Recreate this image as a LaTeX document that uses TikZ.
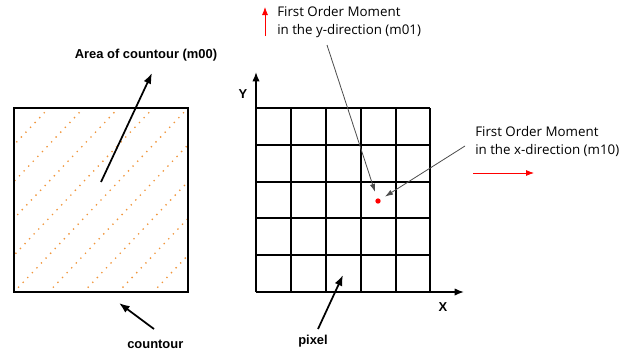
\documentclass[tikz,border=0pt]{standalone}
\usepackage{fontspec}
\setmainfont{Liberation Sans}
\newfontfamily\notefont{Open Sans}
\usetikzlibrary{arrows.meta}

\begin{document}
\begin{tikzpicture}[x=0.75pt,y=-0.75pt,
  lbl/.style={font=\fontsize{9.7}{11}\selectfont\bfseries, inner sep=0pt},
  note/.style={font=\notefont\fontsize{10}{13.5}\selectfont, align=left, inner sep=0pt, anchor=north west},
  ptr/.style={-{Latex[length=8pt,width=6pt]}, line width=1.3pt},
  thinptr/.style={-{Latex[length=6pt,width=4pt]}, line width=0.6pt, draw=black!70},
  redptr/.style={-{Latex[length=6pt,width=4.5pt]}, red, line width=0.6pt},
  axis/.style={-{Latex[length=7pt,width=5.5pt]}, line width=1.1pt},
  gridline/.style={line width=1.1pt},
  hatch/.style={draw=dotOrange, line width=1.4pt, line cap=round, dash pattern=on 0pt off 5pt}]

% Colori
\definecolor{dotOrange}{HTML}{F0963C}

\useasboundingbox (0,0) rectangle (631,354);

% Area del contorno (tratteggio)
\begin{scope}
\clip (14,108) rectangle (188,292);
\foreach \k in {-4,...,4}
  \draw[hatch] (14+\k*34.8,292) -- (188+\k*34.8,108);
\end{scope}
\node (cont) [draw, line width=1.2pt, minimum width=130.5pt, minimum height=138pt, inner sep=0pt] at (101,200) {};

% Etichette a sinistra
\node (area) [lbl] at (146,55) {Area of countour (m00)};
\coordinate (areaPt) at (101,182);
\coordinate (areaTip) at (152,73);
\draw[ptr] (areaPt) -- (areaTip);

\node (contLbl) [lbl, anchor=west] at (127,344) {countour};
\coordinate (contTail) at (154,329);
\coordinate (contTip) at (119,303);
\draw[ptr] (contTail) -- (contTip);

% Griglia dei pixel
\foreach \gx in {291,326,361,396,430}
  \draw[gridline] (\gx,108) -- (\gx,292);
\foreach \gy in {108,145,182,218,255}
  \draw[gridline] (256,\gy) -- (430,\gy);
\coordinate (origin) at (256,292);
\coordinate (xEnd) at (464,292);
\coordinate (yEnd) at (256,72);
\draw[axis] (origin) -- (xEnd);
\draw[axis] (origin) -- (yEnd);
\node (xLbl) [lbl] at (443,307) {X};
\node (yLbl) [lbl] at (243,94) {Y};

\node (pixLbl) [lbl] at (313,341) {pixel};
\coordinate (pixTail) at (318,329);
\coordinate (pixTip) at (343,275);
\draw[ptr] (pixTail) -- (pixTip);

% Centroide
\node (cen) [circle, fill=red, inner sep=0pt, minimum size=4pt] at (378,201) {};

% Momenti del primo ordine
\node (m01) [note] at (277,6) {First Order Moment\\in the y-direction (m01)};
\coordinate (m01Tail) at (327,45);
\draw[thinptr, shorten >=5pt] (m01Tail) -- (cen);
\coordinate (upA) at (265,36);
\coordinate (upB) at (265,7);
\draw[redptr] (upA) -- (upB);

\node (m10) [note] at (475,126) {First Order Moment\\in the x-direction (m10)};
\coordinate (m10Tail) at (465,146);
\draw[thinptr, shorten >=4pt] (m10Tail) -- (cen);
\coordinate (rightA) at (473,173);
\coordinate (rightB) at (534,173);
\draw[redptr] (rightA) -- (rightB);

\end{tikzpicture}
\end{document}
